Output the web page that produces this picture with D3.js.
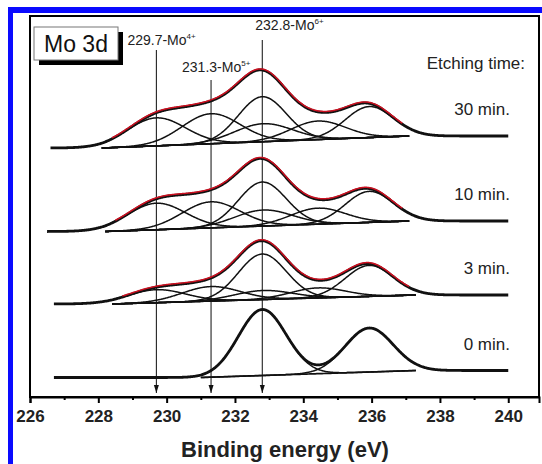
<!DOCTYPE html>
<html>
<head>
<meta charset="utf-8">
<script src="https://cdn.jsdelivr.net/npm/d3@7"></script>
<style>
  body { margin: 0; background: #fff; }
  svg { display: block; font-family: Arial, "Liberation Sans", sans-serif; }
</style>
</head>
<body>
<div id="chart"></div>
<script>
// axis ticks (binding energy, eV)
const energyTicks = [226, 228, 230, 232, 234, 236, 238, 240];
const minorTicks = [227, 229, 231, 233, 235, 237, 239];

// spectra, bottom to top
const etchLabels = ["0 min.", "3 min.", "10 min.", "30 min."];

// marked 3d5/2 positions
const markerEnergies = [229.7, 231.3, 232.8];
const markerNames = ["229.7-Mo", "231.3-Mo", "232.8-Mo"];
const markerCharges = ["4+", "5+", "6+"];

// fitted components: Mo4+ 5/2, Mo5+ 5/2, Mo6+ 5/2, Mo4+ 3/2, Mo5+ 3/2, Mo6+ 3/2
const peakCenters = [229.7, 231.3, 232.8, 232.83, 234.43, 235.93];
const peakSigma = [0.85, 0.85, 0.7, 0.85, 0.8, 0.7];
const amps0 = [0, 0, 66, 0, 0, 44];
const amps3 = [13, 14.5, 45.5, 9, 10, 31];
const amps10 = [26.5, 26, 44, 16, 16, 31];
const amps30 = [28, 30, 45, 18, 18.5, 31];
const peakAmps = [amps0, amps3, amps10, amps30];

// background (a.u.) and scan range for each spectrum
const bgLeft = [19.5, 93, 165.5, 249];
const bgRight = [26.5, 102, 176, 261];
const bgFrom = [231.0, 228.4, 228.2, 228.1];
const bgTo = [237.3, 237.3, 237.1, 237.1];
const scanFrom = [226.7, 226.7, 226.5, 226.6];
const scanTo = [240.0, 240.0, 240.0, 240.0];

const W = 542, H = 464;
const svg = d3.select("#chart").append("svg")
  .attr("width", W).attr("height", H);

// blue frame of the figure
svg.append("rect").attr("x", 8).attr("y", 7).attr("width", 5).attr("height", H - 7).attr("fill", "#0a0aff");
svg.append("rect").attr("x", 8).attr("y", 7).attr("width", W - 8).attr("height", 6).attr("fill", "#0a0aff");

const x = d3.scaleLinear().domain([226, 240.9]).range([30, 539]);
const y = d3.scaleLinear().domain([0, 381]).range([397, 16]);

function background(i, e) {
  if (e <= bgFrom[i]) return bgLeft[i];
  if (e >= bgTo[i]) return bgRight[i];
  return bgLeft[i] + (bgRight[i] - bgLeft[i]) * (e - bgFrom[i]) / (bgTo[i] - bgFrom[i]);
}
function gauss(k, a, e) {
  const d = e - peakCenters[k];
  return a * Math.exp(-d * d / (2 * peakSigma[k] * peakSigma[k]));
}
function envelope(i, e) {
  let v = background(i, e);
  peakAmps[i].forEach((a, k) => { v += gauss(k, a, e); });
  return v;
}

const line = d3.line().x(d => x(d[0])).y(d => y(d[1]));

// arrows
svg.append("defs").append("marker")
  .attr("id", "arr").attr("viewBox", "0 0 8 8").attr("refX", 8).attr("refY", 4)
  .attr("markerWidth", 8).attr("markerHeight", 8).attr("orient", "auto")
  .attr("markerUnits", "userSpaceOnUse")
  .append("path").attr("d", "M0,1.5L8,4L0,6.5Z").attr("fill", "#111");

const markerTop = [50, 80, 40];
const labelBase = [45, 72, 30];
const labelShift = [-29, -29, -7];

const mk = svg.append("g");
markerEnergies.forEach((e, j) => {
  mk.append("line")
    .attr("x1", x(e)).attr("x2", x(e))
    .attr("y1", markerTop[j]).attr("y2", 393)
    .attr("stroke", "#222").attr("stroke-width", 1.1)
    .attr("marker-end", "url(#arr)");
  const t = mk.append("text")
    .attr("x", x(e) + labelShift[j]).attr("y", labelBase[j])
    .attr("font-size", 14).attr("fill", "#222");
  t.append("tspan").text(markerNames[j]);
  t.append("tspan").attr("dy", -6).attr("font-size", 8).text(markerCharges[j]);
});

// spectra
const plot = svg.append("g");
etchLabels.forEach((lab, i) => {
  const g = plot.append("g");
  const bgPts = d3.range(bgFrom[i], bgTo[i] + 1e-9, 0.05).map(e => [e, background(i, e)]);
  g.append("path").attr("d", line(bgPts))
    .attr("fill", "none").attr("stroke", "#111").attr("stroke-width", 1.7);

  peakAmps[i].forEach((a, k) => {
    if (a <= 0) return;
    const pts = d3.range(bgFrom[i], bgTo[i] + 1e-9, 0.02).map(e => [e, background(i, e) + gauss(k, a, e)]);
    g.append("path").attr("d", line(pts))
      .attr("fill", "none").attr("stroke", "#111").attr("stroke-width", 1.5);
  });

  const env = d3.range(scanFrom[i], scanTo[i] + 1e-9, 0.02).map(e => [e, envelope(i, e)]);
  g.append("path").attr("d", line(env))
    .attr("fill", "none").attr("stroke", "#111").attr("stroke-width", 2.8);
  if (i > 0) {
    const fit = d3.range(bgFrom[i] + 0.3, bgTo[i] - 0.2 + 1e-9, 0.02).map(e => [e, envelope(i, e)]);
    g.append("path").attr("d", line(fit))
      .attr("transform", "translate(0,-1)")
      .attr("fill", "none").attr("stroke", "#cc1020").attr("stroke-width", 1.5);
  }

  g.append("text")
    .attr("x", x(240.05)).attr("y", y(bgRight[i] + 21))
    .attr("text-anchor", "end").attr("font-size", 17).attr("fill", "#222")
    .text(lab);
});

svg.append("text")
  .attr("x", 525).attr("y", 69)
  .attr("text-anchor", "end").attr("font-size", 17).attr("fill", "#222")
  .text("Etching time:");

// "Mo 3d" box with shadow
svg.append("rect").attr("x", 39).attr("y", 32).attr("width", 84).attr("height", 33).attr("fill", "#000");
svg.append("rect").attr("x", 34).attr("y", 27).attr("width", 84).attr("height", 33)
  .attr("fill", "#fff").attr("stroke", "#777").attr("stroke-width", 1);
svg.append("text").attr("x", 76).attr("y", 52).attr("text-anchor", "middle")
  .attr("font-size", 23).attr("fill", "#111").text("Mo 3d");

// frame
svg.append("rect").attr("x", 30).attr("y", 16).attr("width", 509).attr("height", 381)
  .attr("fill", "none").attr("stroke", "#000").attr("stroke-width", 2);

// x axis
const ax = svg.append("g").attr("transform", "translate(0,397)")
  .call(d3.axisBottom(x).tickValues(energyTicks).tickSize(6).tickPadding(7).tickFormat(d3.format("d")));
ax.select(".domain").attr("stroke-width", 2);
ax.selectAll(".tick line").attr("stroke-width", 2);
ax.selectAll(".tick text").attr("font-size", 17).attr("font-weight", "bold")
  .attr("font-family", "Arial, 'Liberation Sans', sans-serif").attr("fill", "#222");

const axm = svg.append("g").attr("transform", "translate(0,397)")
  .call(d3.axisBottom(x).tickValues(minorTicks).tickSize(3).tickFormat(""));
axm.select(".domain").remove();
axm.selectAll(".tick line").attr("stroke-width", 2);

svg.append("text")
  .attr("x", 285).attr("y", 457).attr("text-anchor", "middle")
  .attr("font-size", 22).attr("font-weight", "bold").attr("fill", "#222")
  .text("Binding energy (eV)");
</script>
</body>
</html>
